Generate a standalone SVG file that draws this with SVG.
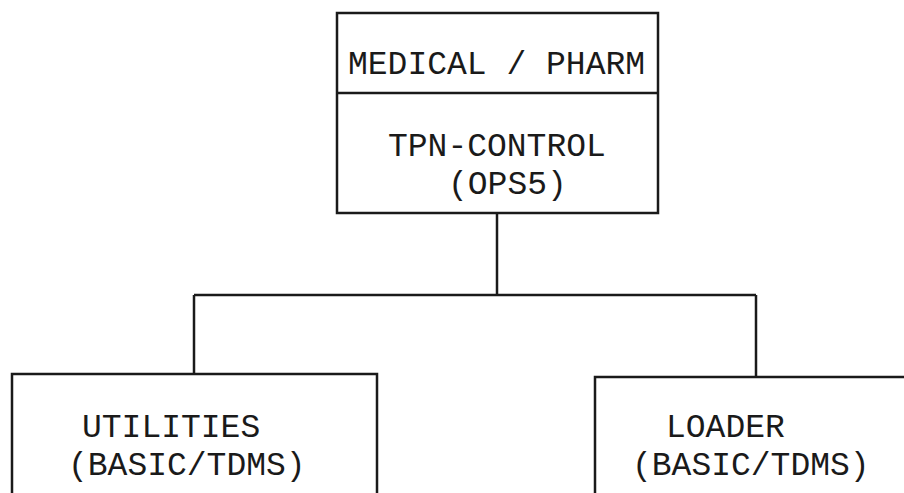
<svg xmlns="http://www.w3.org/2000/svg" width="904" height="493" viewBox="0 0 904 493">
<style>
.box{fill:none;stroke:#1a1a1a;stroke-width:2.5}
.ln{fill:none;stroke:#1a1a1a;stroke-width:2.5}
.t{font-family:"Liberation Mono","Courier New",monospace;font-size:33px;fill:#1a1a1a}
</style>
<rect width="904" height="493" fill="#fff"/>
<g id="connectors">
<path class="ln" d="M497,213 V295"/>
<path class="ln" d="M194,295 H756"/>
<path class="ln" d="M194,295 V374"/>
<path class="ln" d="M756,295 V377"/>
</g>
<g id="tpn-control">
<rect class="box" x="337" y="13" width="321" height="200"/>
<line class="ln" x1="337" y1="93" x2="658" y2="93"/>
<text class="t" x="348" y="74">MEDICAL / PHARM</text>
<text class="t" x="388" y="156">TPN-CONTROL</text>
<text class="t" x="448" y="194">(OPS5)</text>
</g>
<g id="utilities">
<rect class="box" x="12" y="374" width="365" height="140"/>
<text class="t" x="82" y="437">UTILITIES</text>
<text class="t" x="68" y="475">(BASIC/TDMS)</text>
</g>
<g id="loader">
<rect class="box" x="595" y="377" width="330" height="140"/>
<text class="t" x="666" y="437">LOADER</text>
<text class="t" x="632" y="475">(BASIC/TDMS)</text>
</g>
</svg>
